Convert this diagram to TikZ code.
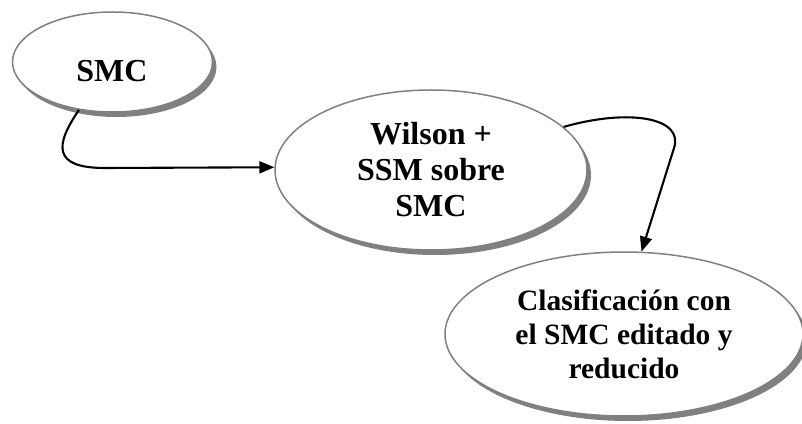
\documentclass[tikz,border=0pt]{standalone}
\usepackage{fontspec}
\setmainfont{Liberation Serif}
\usetikzlibrary{shapes.geometric,shadows,arrows.meta}
\definecolor{rimgray}{HTML}{808080}
\tikzset{
  bubble/.style={ellipse, draw=rimgray, line width=1.5pt, fill=white, inner sep=0pt,
    drop shadow={shadow xshift=4pt, shadow yshift=-5pt, fill=rimgray, opacity=1}},
  lbl/.style={align=center, font=\bfseries\fontsize{32}{36}\selectfont, inner sep=0pt},
  lblsmall/.style={align=center, font=\bfseries\fontsize{29.5}{34}\selectfont, inner sep=0pt},
  link/.style={line width=2.1pt, -{Triangle[length=15pt,width=12pt]}},
}
\begin{document}
\begin{tikzpicture}[x=1pt,y=1pt]
\useasboundingbox (0,0) rectangle (802,423);
% the three stages
\node[bubble, minimum width=200pt, minimum height=100pt] (s) at (112.5,361) {};
\node[lbl] (st) at (112,352) {SMC};
\node[bubble, minimum width=312pt, minimum height=160pt, lbl] (w) at (431,253)
  {Wilson +\\SSM sobre\\SMC};
\node[bubble, minimum width=358pt, minimum height=164pt, lblsmall] (c) at (624,89)
  {Clasificación con\\el SMC editado y\\reducido};
% connectors
\coordinate (turn) at (105,255);
\draw[link] (s.235) .. controls (55,278) and (52,255) .. (turn) -- (w.179);
\draw[link] (w.18) .. controls (630,315) and (684,305) .. (674,275) -- (c.78);
\end{tikzpicture}
\end{document}
